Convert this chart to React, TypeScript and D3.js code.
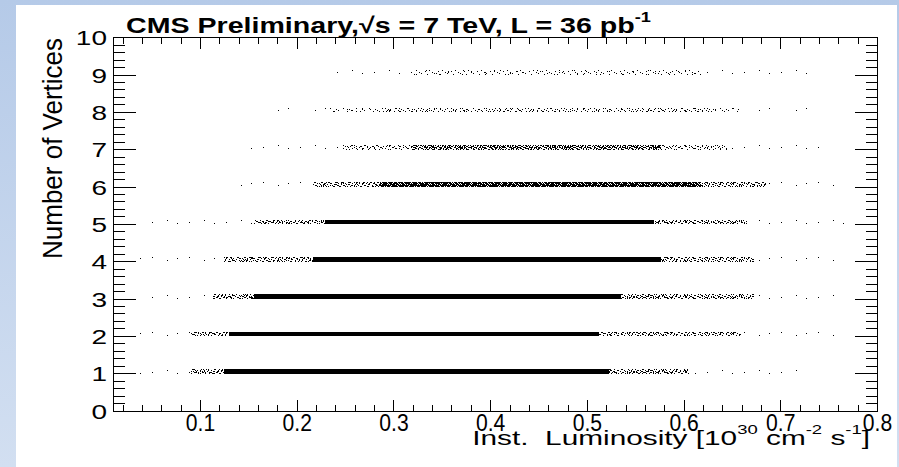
import React from 'react';
import * as d3 from 'd3';

// ---- data ----
const vertexCounts = [1, 2, 3, 4, 5, 6, 7, 8, 9];
// luminosity extents of each row: sparse tail | textured | core | textured | sparse tail
const sparseFrom = [0.033, 0.036, 0.044, 0.034, 0.038, 0.141, 0.151, 0.167, 0.234];
const textureFrom = [0.090, 0.090, 0.113, 0.124, 0.155, 0.216, 0.247, 0.234, 0.286];
const coreFrom = [0.124, 0.129, 0.155, 0.216, 0.229, 0.286, 0.320, 0.286, 0.320];
const coreTo = [0.522, 0.512, 0.535, 0.576, 0.569, 0.617, 0.576, 0.628, 0.617];
const textureTo = [0.605, 0.659, 0.672, 0.672, 0.665, 0.685, 0.644, 0.657, 0.617];
const sparseTo = [0.726, 0.758, 0.758, 0.755, 0.765, 0.755, 0.751, 0.734, 0.734];
const coreDensity = ['solid', 'solid', 'solid', 'solid', 'solid', 'heavy', 'medium', 'light', 'faint'];
const edgeDensity = ['texture', 'texture', 'texture', 'texture', 'texture', 'texture', 'light', 'faint', 'sparse'];

const xMajorTicks = [0.1, 0.2, 0.3, 0.4, 0.5, 0.6, 0.7, 0.8];
const xTickLabels = ['0.1', '0.2', '0.3', '0.4', '0.5', '0.6', '0.7', '0.8'];
const yMajorTicks = [0, 1, 2, 3, 4, 5, 6, 7, 8, 9, 10];
const yTickLabels = ['0', '1', '2', '3', '4', '5', '6', '7', '8', '9', '10'];

// ---- styling: speckle tiles that stand in for point density ----
const tiles: Record<string, { w: number; dots: number[][] }> = {
  a: { w: 37, dots: [[4, 2], [19, 0], [29, 3]] },
  b: { w: 23, dots: [[11, 1], [2, 4]] },
  c: { w: 13, dots: [[0, 0], [9, 1], [5, 3], [11, 4], [3, 2]] },
  d: { w: 11, dots: [[2, 0], [7, 2], [0, 3], [5, 4], [9, 1], [4, 1]] },
  e: { w: 7, dots: [[1, 0], [4, 1], [6, 2], [2, 3], [5, 4], [0, 2]] },
  f: { w: 5, dots: [[0, 0], [2, 1], [4, 2], [1, 3], [3, 4], [3, 0], [0, 2]] },
  g: { w: 3, dots: [[0, 0], [1, 1], [2, 2], [0, 3], [1, 4], [2, 0]] },
  h: { w: 2, dots: [[0, 0], [1, 1], [0, 2], [1, 3], [0, 4]] },
};
const levels: Record<string, string[]> = {
  sparse: ['a'],
  texture: ['a', 'c', 'd', 'e'],
  faint: ['a', 'b', 'c'],
  light: ['a', 'c', 'd'],
  medium: ['c', 'd', 'e', 'f'],
  heavy: ['e', 'f', 'g', 'h'],
};

const W = 899;
const H = 467;
const FL = 113.5, FR = 877.5, FT = 37.7, FB = 411;
const BAND = 0.125;

export default function App() {
  const x = d3.scaleLinear().domain([0.01, 0.8]).range([FL, FR]);
  const y = d3.scaleLinear().domain([0, 10]).range([FB, FT]);
  const xMinor = x.ticks(40);
  const yMinor = y.ticks(50);

  const segs: { x0: number; x1: number; n: number; level: string }[] = [];
  vertexCounts.forEach((n, i) => {
    segs.push({ x0: sparseFrom[i], x1: textureFrom[i], n, level: 'sparse' });
    segs.push({ x0: textureFrom[i], x1: coreFrom[i], n, level: edgeDensity[i] });
    segs.push({ x0: coreFrom[i], x1: coreTo[i], n, level: coreDensity[i] });
    segs.push({ x0: coreTo[i], x1: textureTo[i], n, level: edgeDensity[i] });
    segs.push({ x0: textureTo[i], x1: sparseTo[i], n, level: 'sparse' });
  });

  const font = 'Liberation Sans, Arial, Helvetica, sans-serif';

  return (
    <svg width={W} height={H} style={{ position: 'absolute', left: 0, top: 0 }} fontFamily={font}>
      <defs>
        <linearGradient id="bg" x1="0" y1="0" x2="0" y2="1">
          <stop offset="0" stopColor="#b5cae8" />
          <stop offset="1" stopColor="#d2dff1" />
        </linearGradient>
        {Object.entries(tiles).map(([k, t]) => (
          <pattern key={k} id={'sp-' + k} patternUnits="userSpaceOnUse" width={t.w} height={5}>
            {t.dots.map((d, j) => (
              <rect key={j} x={d[0]} y={d[1]} width={1} height={1} fill="#000" />
            ))}
          </pattern>
        ))}
      </defs>
      <rect x={0} y={0} width={W} height={H} fill="url(#bg)" />
      <rect x={16} y={5} width={881} height={H - 5} fill="#fff" />

      {/* scatter density bands */}
      <g shapeRendering="crispEdges">
        {segs.map((s, i) => {
          if (s.x1 <= s.x0) return null;
          const rx = x(s.x0);
          const rw = x(s.x1) - x(s.x0);
          const ry = y(s.n + BAND);
          const rh = y(s.n) - y(s.n + BAND);
          if (s.level === 'solid') {
            return <rect key={i} x={rx} y={ry} width={rw} height={rh} fill="#000" />;
          }
          return (
            <g key={i}>
              {levels[s.level].map((k) => (
                <rect key={k} x={rx} y={ry} width={rw} height={rh} fill={`url(#sp-${k})`} />
              ))}
            </g>
          );
        })}
      </g>

      {/* frame and ticks */}
      <g stroke="#000" strokeWidth={1} shapeRendering="crispEdges" fill="none">
        <rect x={FL} y={FT} width={FR - FL} height={FB - FT} />
        {xMinor.map((v) => {
          const major = xMajorTicks.some((m) => Math.abs(m - v) < 1e-6);
          const len = major ? 11.5 : 6;
          return (
            <g key={'x' + v}>
              <line x1={x(v)} x2={x(v)} y1={FB} y2={FB - len} />
              <line x1={x(v)} x2={x(v)} y1={FT} y2={FT + len} />
            </g>
          );
        })}
        {yMinor.map((v) => {
          const major = yMajorTicks.some((m) => Math.abs(m - v) < 1e-6);
          const len = major ? 22.7 : 11.5;
          return (
            <g key={'y' + v}>
              <line x1={FL} x2={FL + len} y1={y(v)} y2={y(v)} />
              <line x1={FR} x2={FR - len} y1={y(v)} y2={y(v)} />
            </g>
          );
        })}
      </g>

      {/* tick labels */}
      {xMajorTicks.map((v, i) => (
        <g key={'xl' + v} transform={`translate(${x(v)},431) scale(0.92,1)`}>
          <text textAnchor="middle" fontSize={23} fill="#000">{xTickLabels[i]}</text>
        </g>
      ))}
      {yMajorTicks.map((v, i) => (
        <g key={'yl' + v} transform={`translate(107,${y(v) + 7.5})scale(1.4,1)`}>
          <text textAnchor="end" fontSize={20} fill="#000">{yTickLabels[i]}</text>
        </g>
      ))}

      {/* axis titles */}
      <g transform="translate(62,38) rotate(-90) scale(1,1.07)">
        <text textAnchor="end" fontSize={26} fill="#000">Number of Vertices</text>
      </g>
      <g transform="translate(870,445) scale(1.42,1)">
        <text textAnchor="end" fontSize={21} fill="#000" style={{ whiteSpace: 'pre' }}>
          {'Inst.  Luminosity [10'}
          <tspan dy={-11} fontSize={13}>30</tspan>
          <tspan dy={11}>{' cm'}</tspan>
          <tspan dy={-11} fontSize={13}>-2</tspan>
          <tspan dy={11}>{' s'}</tspan>
          <tspan dy={-11} fontSize={13}>-1</tspan>
          <tspan dy={11}>]</tspan>
        </text>
      </g>

      {/* title */}
      <g transform="translate(126,33) scale(1.3,1)">
        <text fontSize={22} fontWeight="bold" fill="#000">
          {'CMS Preliminary,√s = 7 TeV, L = 36 pb'}
          <tspan dy={-11} fontSize={14}>-1</tspan>
        </text>
      </g>
    </svg>
  );
}
